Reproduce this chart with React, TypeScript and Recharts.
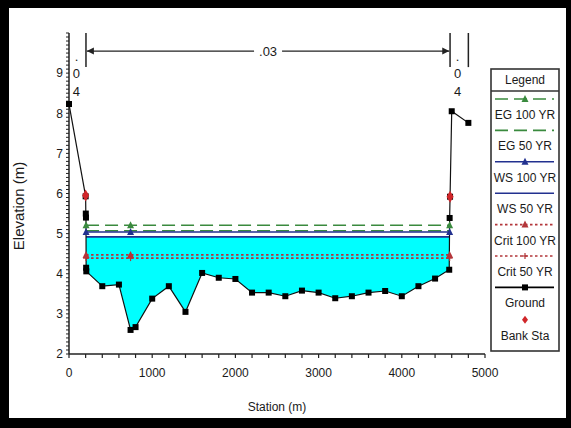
import React from 'react'
import { ComposedChart, Line, Area, Scatter, XAxis, YAxis, ReferenceLine, ReferenceDot } from 'recharts'

const FONT = '"Liberation Sans", Arial, sans-serif'

// ground profile (station m, elevation m)
const groundStation = [0, 200, 202, 204, 206, 208, 400, 600, 740, 800, 1000, 1200, 1400, 1600, 1800, 2000, 2200, 2400, 2600, 2800, 3000, 3200, 3400, 3600, 3800, 4000, 4200, 4400, 4570, 4575, 4580, 4600, 4800]
const groundElev = [8.23, 5.93, 5.5, 5.4, 4.15, 4.06, 3.69, 3.73, 2.6, 2.67, 3.38, 3.69, 3.05, 4.02, 3.9, 3.87, 3.53, 3.53, 3.44, 3.58, 3.53, 3.39, 3.44, 3.53, 3.57, 3.44, 3.69, 3.88, 4.1, 5.39, 5.92, 8.05, 7.76]

const bankStation = [200, 4580]
const bankElev = [5.95, 5.92]

// water surface profiles
const waterStation = [205, 740, 4575]
const eg100 = 5.21
const eg50 = 5.07
const ws100 = 5.04
const ws50 = 4.92
const crit100 = 4.47
const crit50 = 4.39

// n-value zones
const nBreaks = [204, 4580, 4800]
const nLabels = [
  { station: 90, text: '.04' },
  { station: 4670, text: '.04' },
]
const channelN = '.03'

const xTickLabels = [0, 1000, 2000, 3000, 4000, 5000]
const yTickLabels = [2, 3, 4, 5, 6, 7, 8, 9]
const xTicks = Array.from({ length: 26 }, (_, i) => i * 200)
const yTicks = Array.from({ length: 81 }, (_, i) => Math.round((2 + i * 0.1) * 10) / 10)

const EG_COLOR = '#3a8a3e'
const WS_COLOR = '#22318f'
const CRIT_COLOR = '#b3363a'

const ground = groundStation.map((x, i) => ({ x, y: groundElev[i] }))
const banks = bankStation.map((x, i) => ({ x, y: bankElev[i] }))
const level = (v: number) => waterStation.map((x) => ({ x, y: v }))
const fillData = groundStation
  .map((x, i) => ({ x, r: [Math.min(groundElev[i], ws50), ws50] }))
  .filter((d) => d.x >= 204 && d.x <= 4575)

const triangle = (color: string) => (p: any) => {
  if (p.cx == null) return <g key={`t-${p.index}`} />
  return (
    <polygon
      key={`t-${p.index}`}
      points={`${p.cx},${p.cy - 4} ${p.cx - 3.5},${p.cy + 3} ${p.cx + 3.5},${p.cy + 3}`}
      fill={color}
    />
  )
}

const plus = (color: string) => (p: any) => {
  if (p.cx == null) return <g key={`p-${p.index}`} />
  return (
    <g key={`p-${p.index}`} stroke={color} strokeWidth={1.2}>
      <line x1={p.cx - 3} y1={p.cy} x2={p.cx + 3} y2={p.cy} />
      <line x1={p.cx} y1={p.cy - 3} x2={p.cx} y2={p.cy + 3} />
    </g>
  )
}

const square = (p: any) => {
  if (p.cx == null) return <g key={`s-${p.index}`} />
  return <rect key={`s-${p.index}`} x={p.cx - 3} y={p.cy - 3} width={6} height={6} fill="#000" />
}

const diamond = (p: any) => (
  <polygon
    points={`${p.cx},${p.cy - 6} ${p.cx + 3.5},${p.cy} ${p.cx},${p.cy + 6} ${p.cx - 3.5},${p.cy}`}
    fill="#d0262a"
  />
)

const XTick = (props: any) => {
  const { x, y, payload } = props
  if (!xTickLabels.includes(payload.value)) return <g />
  return (
    <text x={x} y={y} dy="0.71em" textAnchor="middle" fontSize={12} fill="#1a1a1a" fontFamily={FONT}>
      {payload.value}
    </text>
  )
}

const YTick = (props: any) => {
  const { x, y, payload } = props
  if (!yTickLabels.includes(payload.value)) return <g />
  return (
    <text x={x} y={y} dy="0.36em" textAnchor="end" fontSize={12} fill="#1a1a1a" fontFamily={FONT}>
      {payload.value}
    </text>
  )
}

const ArrowShape = (p: any) => {
  const { x1, y1, x2 } = p
  const mid = (x1 + x2) / 2
  return (
    <g>
      <line x1={x1} y1={y1} x2={mid - 14} y2={y1} stroke="#222" strokeWidth={1.3} />
      <line x1={mid + 14} y1={y1} x2={x2} y2={y1} stroke="#222" strokeWidth={1.3} />
      <polygon points={`${x1},${y1} ${x1 + 7},${y1 - 3.5} ${x1 + 7},${y1 + 3.5}`} fill="#222" />
      <polygon points={`${x2},${y1} ${x2 - 7},${y1 - 3.5} ${x2 - 7},${y1 + 3.5}`} fill="#222" />
      <text x={mid} y={y1} dy="0.36em" textAnchor="middle" fontSize={13} fill="#1a1a1a" fontFamily={FONT}>
        {channelN}
      </text>
    </g>
  )
}

const NLabel = (text: string) => (p: any) => (
  <text x={p.cx} y={p.cy} textAnchor="middle" fontSize={13} fill="#1a1a1a" fontFamily={FONT}>
    {text.split('').map((c, i) => (
      <tspan key={i} x={p.cx} dy={i === 0 ? -17 : i === 1 ? 17 : 18}>
        {c}
      </tspan>
    ))}
  </text>
)

const legendItems = [
  { name: 'EG 100 YR', color: EG_COLOR, dash: '13 6', marker: 'tri' },
  { name: 'EG 50 YR', color: EG_COLOR, dash: '13 6', marker: '' },
  { name: 'WS 100 YR', color: WS_COLOR, dash: '', marker: 'tri' },
  { name: 'WS 50 YR', color: WS_COLOR, dash: '', marker: '' },
  { name: 'Crit 100 YR', color: CRIT_COLOR, dash: '2.5 2.5', marker: 'tri' },
  { name: 'Crit 50 YR', color: CRIT_COLOR, dash: '2.5 2.5', marker: 'plus' },
  { name: 'Ground', color: '#000', dash: '', marker: 'sq' },
  { name: 'Bank Sta', color: '#d0262a', dash: '', marker: 'dia' },
]

function LegendBox() {
  const top = 31
  const step = 31.4
  return (
    <svg width={70} height={284} style={{ position: 'absolute', left: 490, top: 68 }}>
      <rect x={1} y={1} width={68} height={282} fill="#fff" stroke="#333" strokeWidth={1.6} />
      <text x={35} y={15.5} textAnchor="middle" fontSize={12} fill="#1a1a1a" fontFamily={FONT}>
        Legend
      </text>
      <line x1={1} y1={23} x2={69} y2={23} stroke="#333" strokeWidth={1.6} />
      {legendItems.map((it, i) => {
        const ly = top + i * step + (i > 6 ? 1 : 0)
        const cx = 35
        return (
          <g key={it.name}>
            {it.marker !== 'dia' && (
              <line x1={5} y1={ly} x2={64} y2={ly} stroke={it.color} strokeWidth={1.6} strokeDasharray={it.dash || undefined} />
            )}
            {it.marker === 'tri' && (
              <polygon points={`${cx},${ly - 4} ${cx - 3.5},${ly + 3} ${cx + 3.5},${ly + 3}`} fill={it.color} />
            )}
            {it.marker === 'plus' && (
              <g stroke={it.color} strokeWidth={1.2}>
                <line x1={cx - 3} y1={ly} x2={cx + 3} y2={ly} />
                <line x1={cx} y1={ly - 3} x2={cx} y2={ly + 3} />
              </g>
            )}
            {it.marker === 'sq' && <rect x={cx - 3} y={ly - 3} width={6} height={6} fill="#000" />}
            {it.marker === 'dia' && (
              <polygon points={`${cx},${ly - 4} ${cx + 3},${ly} ${cx},${ly + 4} ${cx - 3},${ly}`} fill={it.color} />
            )}
            <text x={cx} y={ly + 20} textAnchor="middle" fontSize={12} fill="#1a1a1a" fontFamily={FONT}>
              {it.name}
            </text>
          </g>
        )
      })}
    </svg>
  )
}

export default function App() {
  return (
    <div style={{ position: 'absolute', left: 0, top: 0, width: 571, height: 428, background: '#000' }}>
      <div style={{ position: 'absolute', left: 9, top: 8, width: 557, height: 410, background: '#fff' }} />
      <div style={{ position: 'absolute', left: 0, top: 0 }}>
        <ComposedChart width={571} height={428} margin={{ top: 33, right: 86, bottom: 44, left: 9 }}>
          <XAxis
            type="number"
            dataKey="x"
            domain={[0, 5000]}
            ticks={xTicks}
            interval={0}
            tick={<XTick />}
            tickSize={4}
            tickMargin={10}
            height={30}
            axisLine={{ stroke: '#222', strokeWidth: 1.5 }}
            tickLine={{ stroke: '#222', strokeWidth: 1.2 }}
          />
          <YAxis
            type="number"
            domain={[2, 10]}
            ticks={yTicks}
            interval={0}
            tick={<YTick />}
            tickSize={3}
            tickMargin={3}
            width={60}
            axisLine={{ stroke: '#222', strokeWidth: 1.5 }}
            tickLine={{ stroke: '#222', strokeWidth: 1 }}
          />
          <Area data={fillData} dataKey="r" type="linear" fill="#00ffff" fillOpacity={1} stroke="none" isAnimationActive={false} />
          <Line data={level(crit50)} dataKey="y" stroke={CRIT_COLOR} strokeWidth={1.6} strokeDasharray="2.5 2.5" dot={plus(CRIT_COLOR)} activeDot={false} isAnimationActive={false} />
          <Line data={level(crit100)} dataKey="y" stroke={CRIT_COLOR} strokeWidth={1.6} strokeDasharray="2.5 2.5" dot={triangle(CRIT_COLOR)} activeDot={false} isAnimationActive={false} />
          <Line data={level(ws50)} dataKey="y" stroke={WS_COLOR} strokeWidth={1.6} dot={false} activeDot={false} isAnimationActive={false} />
          <Line data={level(eg50)} dataKey="y" stroke={EG_COLOR} strokeWidth={1.6} strokeDasharray="13 6" dot={false} activeDot={false} isAnimationActive={false} />
          <Line data={level(ws100)} dataKey="y" stroke={WS_COLOR} strokeWidth={1.6} dot={triangle(WS_COLOR)} activeDot={false} isAnimationActive={false} />
          <Line data={level(eg100)} dataKey="y" stroke={EG_COLOR} strokeWidth={1.6} strokeDasharray="13 6" dot={triangle(EG_COLOR)} activeDot={false} isAnimationActive={false} />
          <Line data={ground} dataKey="y" stroke="#111" strokeWidth={1.2} dot={square} activeDot={false} isAnimationActive={false} />
          <Scatter data={banks} dataKey="y" shape={diamond} isAnimationActive={false} />
          {nBreaks.map((s) => (
            <ReferenceLine key={s} segment={[{ x: s, y: 9.15 }, { x: s, y: 10 }]} stroke="#222" strokeWidth={1.5} />
          ))}
          <ReferenceLine segment={[{ x: 215, y: 9.55 }, { x: 4570, y: 9.55 }]} shape={ArrowShape} />
          {nLabels.map((n) => (
            <ReferenceDot key={n.station} x={n.station} y={8.88} shape={NLabel(n.text)} />
          ))}
        </ComposedChart>
      </div>
      <div
        style={{
          position: 'absolute',
          left: 277,
          top: 407,
          transform: 'translate(-50%, -50%)',
          fontFamily: FONT,
          fontSize: 12,
          color: '#1a1a1a',
          whiteSpace: 'nowrap',
        }}
      >
        Station (m)
      </div>
      <div
        style={{
          position: 'absolute',
          left: 18,
          top: 206,
          transform: 'translate(-50%, -50%) rotate(-90deg)',
          fontFamily: FONT,
          fontSize: 15,
          color: '#1a1a1a',
          whiteSpace: 'nowrap',
        }}
      >
        Elevation (m)
      </div>
      <LegendBox />
    </div>
  )
}
